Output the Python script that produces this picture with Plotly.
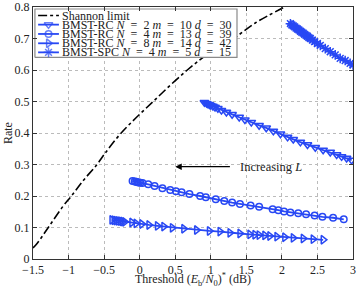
import plotly.graph_objects as go

# Shannon limit (BIAWGN capacity)
shannon_x = [-1.5, -1.44, -1.285, -1.08, -0.96, -0.79, -0.6, -0.495, -0.26, 0.19, 0.67, 1.06, 1.32, 1.63, 2.04]
shannon_y = [0.035, 0.05, 0.10, 0.1667, 0.20, 0.25, 0.30, 0.333, 0.40, 0.50, 0.60, 0.667, 0.70, 0.75, 0.80]

# BMST-RC N=2 m=10 d=30
s1_x = [0.91, 0.94, 0.96, 0.98, 1.00, 1.03, 1.06, 1.10, 1.15, 1.22, 1.30, 1.40, 1.48, 1.57, 1.68, 1.78,
        1.88, 1.98, 2.08, 2.16, 2.26, 2.36, 2.47, 2.58, 2.68, 2.77, 2.84, 2.91, 2.98]
s1_y = [0.497, 0.494, 0.492, 0.490, 0.488, 0.485, 0.482, 0.478, 0.472, 0.466, 0.459, 0.450, 0.442, 0.434,
        0.424, 0.416, 0.406, 0.397, 0.387, 0.380, 0.371, 0.363, 0.354, 0.346, 0.339, 0.331, 0.325, 0.320, 0.314]

# BMST-RC N=4 m=13 d=39
s2_x = [-0.10, -0.07, -0.05, -0.03, -0.01, 0.01, 0.04, 0.12, 0.21, 0.32, 0.43, 0.51, 0.59, 0.70, 0.85, 0.93,
        1.07, 1.19, 1.30, 1.41, 1.56, 1.68, 1.87, 1.95, 2.03, 2.12, 2.23, 2.34, 2.46, 2.57, 2.72, 2.87]
s2_y = [0.248, 0.246, 0.245, 0.244, 0.243, 0.242, 0.241, 0.237, 0.232, 0.225, 0.219, 0.215, 0.212, 0.206,
        0.200, 0.196, 0.190, 0.184, 0.179, 0.175, 0.170, 0.166, 0.158, 0.155, 0.151, 0.148, 0.145, 0.142,
        0.138, 0.134, 0.131, 0.126]

# BMST-RC N=8 m=14 d=42
s3_x = [-0.39, -0.36, -0.33, -0.30, -0.27, -0.24, -0.21, -0.11, -0.05, 0.03, 0.13, 0.25, 0.34, 0.46, 0.62,
        0.80, 0.98, 1.13, 1.27, 1.41, 1.55, 1.62, 1.68, 1.76, 1.83, 1.93, 2.04, 2.16, 2.30, 2.44, 2.58]
s3_y = [0.124, 0.123, 0.122, 0.121, 0.120, 0.119, 0.118, 0.116, 0.113, 0.111, 0.108, 0.105, 0.103, 0.099,
        0.096, 0.092, 0.089, 0.087, 0.083, 0.081, 0.078, 0.077, 0.076, 0.075, 0.073, 0.071, 0.069, 0.067,
        0.065, 0.063, 0.061]

# BMST-SPC N=4 m=5 d=15
s4_x = [2.12, 2.14, 2.16, 2.18, 2.20, 2.22, 2.24, 2.26, 2.28, 2.30, 2.32, 2.34, 2.36, 2.38, 2.40, 2.43,
        2.46, 2.50, 2.54, 2.61, 2.68, 2.75, 2.82, 2.89, 2.96, 3.00]
s4_y = [0.747, 0.743, 0.740, 0.737, 0.733, 0.730, 0.727, 0.723, 0.720, 0.717, 0.713, 0.710, 0.707, 0.703,
        0.700, 0.695, 0.690, 0.684, 0.678, 0.668, 0.658, 0.648, 0.637, 0.630, 0.621, 0.616]

EQ = "\u2002=\u2002"
legend_names = [
    "Shannon limit",
    f"BMST-RC <i>N</i>{EQ}2 <i>m</i>{EQ}10 <i>d</i>{EQ}30",
    f"BMST-RC <i>N</i>{EQ}4 <i>m</i>{EQ}13 <i>d</i>{EQ}39",
    f"BMST-RC <i>N</i>{EQ}8 <i>m</i>{EQ}14 <i>d</i>{EQ}42",
    f"BMST-SPC <i>N</i>{EQ}4 <i>m</i>{EQ}5 <i>d</i>{EQ}15",
]

arrow_y = 0.293
arrow_tail_x = 1.29
arrow_head_x = 0.50
arrow_text = "Increasing <i>L</i>"

BLUE = "#2848f4"
FONT = "Liberation Serif"
TXT = "#222222"

symbols = ["triangle-down-open", "circle-open", "triangle-right-open", "asterisk-open"]
msizes = [7.5, 6.5, 7.5, 8]

fig = go.Figure()
fig.add_trace(go.Scatter(x=shannon_x, y=shannon_y, mode="lines", showlegend=False,
                         line=dict(color="black", width=1.6, dash="dashdot", shape="spline")))
series = [(s1_x, s1_y), (s2_x, s2_y), (s3_x, s3_y), (s4_x, s4_y)]
for (xs, ys), sym, ms in zip(series, symbols, msizes):
    fig.add_trace(go.Scatter(x=xs, y=ys, mode="lines+markers", showlegend=False,
                             line=dict(color=BLUE, width=1.8),
                             marker=dict(symbol=sym, size=ms, color=BLUE,
                                         line=dict(color=BLUE, width=1.5))))

# ---- custom compact legend drawn on an overlay axis (0..1 = plot area) ----
box_x0, box_x1, box_y0, box_y1 = 0.006, 0.6375, 0.800, 0.992
row_y = [0.966, 0.930, 0.893, 0.856, 0.820]
samp_x0, samp_x1, text_x = 0.016, 0.081, 0.086
fig.add_trace(go.Scatter(x=[box_x0, box_x1, box_x1, box_x0, box_x0],
                         y=[box_y0, box_y0, box_y1, box_y1, box_y0],
                         xaxis="x2", yaxis="y2", mode="lines", fill="toself",
                         fillcolor="white", line=dict(color="#8a8a8a", width=1.2),
                         showlegend=False, hoverinfo="skip"))
fig.add_trace(go.Scatter(x=[samp_x0, samp_x1], y=[row_y[0]] * 2, xaxis="x2", yaxis="y2",
                         mode="lines", line=dict(color="black", width=1.6, dash="dashdot"),
                         showlegend=False, hoverinfo="skip"))
for i, (sym, ms) in enumerate(zip(symbols, msizes)):
    yy = row_y[i + 1]
    fig.add_trace(go.Scatter(x=[samp_x0, (samp_x0 + samp_x1) / 2, samp_x1], y=[yy] * 3,
                             xaxis="x2", yaxis="y2", mode="lines+markers",
                             line=dict(color=BLUE, width=1.8),
                             marker=dict(symbol=sym, size=[0, ms, 0], color=BLUE,
                                         line=dict(color=BLUE, width=1.5)),
                             showlegend=False, hoverinfo="skip"))
for name, yy in zip(legend_names, row_y):
    fig.add_annotation(x=text_x, y=yy, xref="x2", yref="y2", text=name, showarrow=False,
                       xanchor="left", yanchor="middle", borderpad=0,
                       font=dict(family=FONT, size=12, color=TXT))

# ---- arrow annotation ----
fig.add_annotation(x=arrow_head_x, y=arrow_y, ax=arrow_tail_x, ay=arrow_y,
                   xref="x", yref="y", axref="x", ayref="y", text="",
                   showarrow=True, arrowhead=2, arrowsize=1, arrowwidth=1.3, arrowcolor="black")
fig.add_annotation(x=arrow_tail_x + 0.11, y=arrow_y, xref="x", yref="y", text=arrow_text,
                   showarrow=False, xanchor="left", yanchor="middle", borderpad=0,
                   font=dict(family=FONT, size=12.5, color=TXT))

# ---- axis titles ----
fig.add_annotation(x=0.5, y=-0.083, xref="paper", yref="paper", xanchor="center", yanchor="middle",
                   showarrow=False,
                   text="Threshold (<i>E</i><sub>b</sub>/<i>N</i><sub>0</sub>)<sup>*</sup> (dB)",
                   font=dict(family=FONT, size=12, color=TXT))
fig.add_annotation(x=-0.078, y=0.5, xref="paper", yref="paper", xanchor="center", yanchor="middle",
                   showarrow=False, textangle=-90,
                   text="Rate", font=dict(family=FONT, size=12, color=TXT))

axis_common = dict(showline=True, linecolor="#333", linewidth=1, mirror="ticks", ticks="inside",
                   ticklen=4, tickcolor="#333", showgrid=True, gridcolor="#bbbbbb", griddash="dot",
                   gridwidth=1, zeroline=False, automargin=False, ticklabeloverflow="allow",
                   tickfont=dict(family=FONT, size=12, color=TXT))

fig.update_xaxes(range=[-1.5, 3], tickvals=[-1.5, -1, -0.5, 0, 0.5, 1, 1.5, 2, 2.5, 3], **axis_common)
fig.update_yaxes(range=[0, 0.8], tickvals=[0, 0.1, 0.2, 0.3, 0.4, 0.5, 0.6, 0.7, 0.8], **axis_common)

fig.update_layout(
    width=357, height=287,
    margin=dict(l=33, r=4, t=7, b=28),
    plot_bgcolor="white", paper_bgcolor="white",
    font=dict(family=FONT, size=12, color=TXT),
    showlegend=False,
    xaxis2=dict(overlaying="x", range=[0, 1], visible=False, fixedrange=True),
    yaxis2=dict(overlaying="y", range=[0, 1], visible=False, fixedrange=True),
)

fig.write_html("out.html", config={"displayModeBar": False},
               post_script="document.body.style.margin='0px';")
